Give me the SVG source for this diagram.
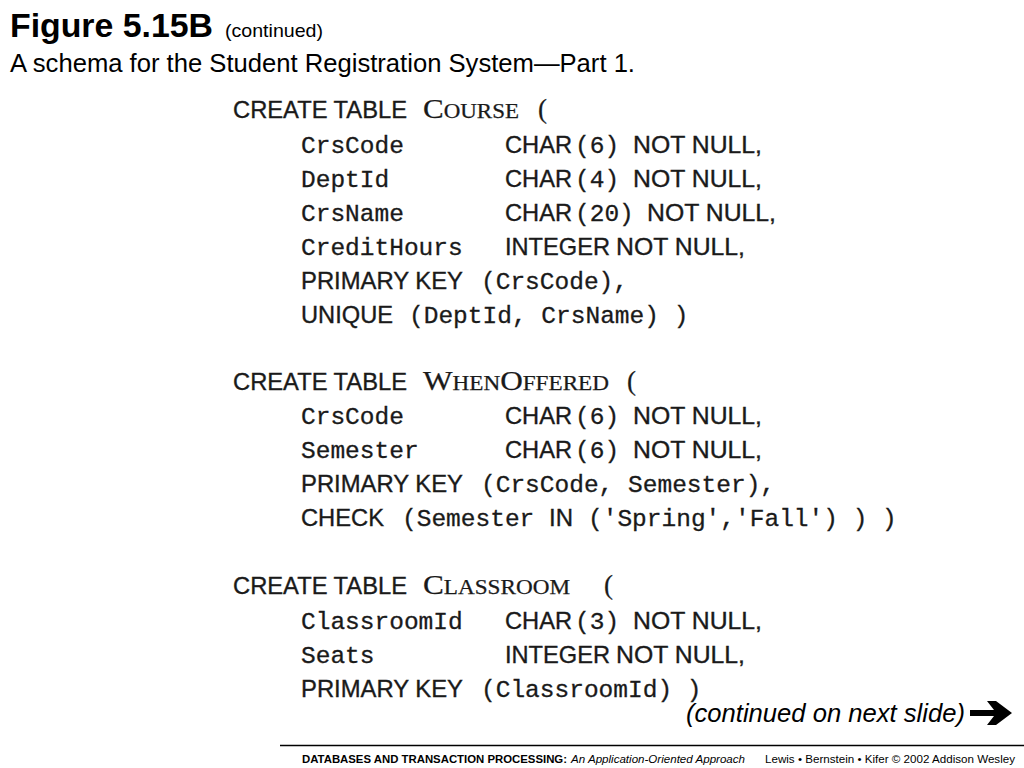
<svg xmlns="http://www.w3.org/2000/svg" width="1024" height="768" viewBox="0 0 1024 768">
<style>
.h{font-family:"Liberation Sans",Arial,sans-serif;fill:#000}
.s{font-family:"Liberation Sans",Arial,sans-serif;font-size:24px;fill:#1a1a1a;stroke:#1a1a1a;stroke-width:0.35px}
.m{font-family:"Liberation Mono","Courier New",monospace;font-size:24.5px;fill:#1a1a1a;stroke:#1a1a1a;stroke-width:0.3px}
.sc{font-family:"Liberation Serif","Times New Roman",serif;fill:#1a1a1a;stroke:#1a1a1a;stroke-width:0.25px}
.big{font-size:27px}
.sm{font-size:20px}
.f{font-family:"Liberation Sans",Arial,sans-serif;font-size:11px;fill:#000}
</style>
<rect width="1024" height="768" fill="#fff"/>
<g id="title">
<text class="h" x="10" y="37" font-size="34" font-weight="bold" textLength="203" lengthAdjust="spacingAndGlyphs">Figure 5.15B</text>
<text class="h" x="225" y="37" font-size="19" textLength="98" lengthAdjust="spacingAndGlyphs">(continued)</text>
<text class="h" x="10" y="72" font-size="25.5" textLength="625" lengthAdjust="spacingAndGlyphs">A schema for the Student Registration System—Part 1.</text>
</g>
<g id="course">
<text class="s" x="233" y="118" textLength="174" lengthAdjust="spacingAndGlyphs">CREATE TABLE</text>
<text class="sc" x="423" y="118" textLength="96" lengthAdjust="spacingAndGlyphs"><tspan class="big">C</tspan><tspan class="sm">OURSE</tspan></text>
<text class="sc big" x="538" y="118">(</text>
<text class="m" x="301" y="153">CrsCode</text>
<text class="s" x="505" y="153" textLength="67" lengthAdjust="spacingAndGlyphs">CHAR</text><text class="m" x="575" y="153">(6)</text>
<text class="s" x="633" y="153" textLength="129" lengthAdjust="spacingAndGlyphs">NOT NULL,</text>
<text class="m" x="301" y="187">DeptId</text>
<text class="s" x="505" y="187" textLength="67" lengthAdjust="spacingAndGlyphs">CHAR</text><text class="m" x="575" y="187">(4)</text>
<text class="s" x="633" y="187" textLength="129" lengthAdjust="spacingAndGlyphs">NOT NULL,</text>
<text class="m" x="301" y="221">CrsName</text>
<text class="s" x="505" y="221" textLength="67" lengthAdjust="spacingAndGlyphs">CHAR</text><text class="m" x="575" y="221">(20)</text>
<text class="s" x="647" y="221" textLength="129" lengthAdjust="spacingAndGlyphs">NOT NULL,</text>
<text class="m" x="301" y="255">CreditHours</text>
<text class="s" x="505" y="255" textLength="105" lengthAdjust="spacingAndGlyphs">INTEGER</text>
<text class="s" x="616" y="255" textLength="129" lengthAdjust="spacingAndGlyphs">NOT NULL,</text>
<text class="s" x="301" y="289" textLength="162" lengthAdjust="spacingAndGlyphs">PRIMARY KEY</text>
<text class="m" x="481" y="289">(CrsCode),</text>
<text class="s" x="301" y="323" textLength="92" lengthAdjust="spacingAndGlyphs">UNIQUE</text>
<text class="m" x="409" y="323" xml:space="preserve">(DeptId, CrsName) )</text>
</g>
<g id="whenoffered">
<text class="s" x="233" y="390" textLength="174" lengthAdjust="spacingAndGlyphs">CREATE TABLE</text>
<text class="sc" x="423" y="390" textLength="186" lengthAdjust="spacingAndGlyphs"><tspan class="big">W</tspan><tspan class="sm">HEN</tspan><tspan class="big">O</tspan><tspan class="sm">FFERED</tspan></text>
<text class="sc big" x="627" y="390">(</text>
<text class="m" x="301" y="424">CrsCode</text>
<text class="s" x="505" y="424" textLength="67" lengthAdjust="spacingAndGlyphs">CHAR</text><text class="m" x="575" y="424">(6)</text>
<text class="s" x="633" y="424" textLength="129" lengthAdjust="spacingAndGlyphs">NOT NULL,</text>
<text class="m" x="301" y="458">Semester</text>
<text class="s" x="505" y="458" textLength="67" lengthAdjust="spacingAndGlyphs">CHAR</text><text class="m" x="575" y="458">(6)</text>
<text class="s" x="633" y="458" textLength="129" lengthAdjust="spacingAndGlyphs">NOT NULL,</text>
<text class="s" x="301" y="492" textLength="162" lengthAdjust="spacingAndGlyphs">PRIMARY KEY</text>
<text class="m" x="481" y="492" xml:space="preserve">(CrsCode, Semester),</text>
<text class="s" x="301" y="526" textLength="83" lengthAdjust="spacingAndGlyphs">CHECK</text>
<text class="m" x="402" y="526">(Semester</text>
<text class="s" x="549" y="526">IN</text>
<text class="m" x="588" y="526" xml:space="preserve">('Spring','Fall') ) )</text>
</g>
<g id="classroom">
<text class="s" x="233" y="594" textLength="174" lengthAdjust="spacingAndGlyphs">CREATE TABLE</text>
<text class="sc" x="423" y="594" textLength="147" lengthAdjust="spacingAndGlyphs"><tspan class="big">C</tspan><tspan class="sm">LASSROOM</tspan></text>
<text class="sc big" x="604" y="594">(</text>
<text class="m" x="301" y="629">ClassroomId</text>
<text class="s" x="505" y="629" textLength="67" lengthAdjust="spacingAndGlyphs">CHAR</text><text class="m" x="575" y="629">(3)</text>
<text class="s" x="633" y="629" textLength="129" lengthAdjust="spacingAndGlyphs">NOT NULL,</text>
<text class="m" x="301" y="663">Seats</text>
<text class="s" x="505" y="663" textLength="105" lengthAdjust="spacingAndGlyphs">INTEGER</text>
<text class="s" x="616" y="663" textLength="129" lengthAdjust="spacingAndGlyphs">NOT NULL,</text>
<text class="s" x="301" y="697" textLength="162" lengthAdjust="spacingAndGlyphs">PRIMARY KEY</text>
<text class="m" x="481" y="697" xml:space="preserve">(ClassroomId) )</text>
</g>
<g id="continued">
<text class="h" x="686" y="722" font-size="25.5" font-style="italic" textLength="279" lengthAdjust="spacingAndGlyphs">(continued on next slide)</text>
<path d="M970 710 L994 710 L987 701 L996 701 L1012 713 L996 725 L987 725 L994 716 L970 716 Z" fill="#000"/>
</g>
<g id="footer">
<line x1="280" y1="745.5" x2="1024" y2="745.5" stroke="#000" stroke-width="1.5"/>
<text class="f" x="302" y="763" font-weight="bold" textLength="265" lengthAdjust="spacingAndGlyphs">DATABASES AND TRANSACTION PROCESSING:</text>
<text class="f" x="571" y="763" font-style="italic" textLength="174" lengthAdjust="spacingAndGlyphs">An Application-Oriented Approach</text>
<text class="f" x="765" y="763" textLength="250" lengthAdjust="spacingAndGlyphs">Lewis • Bernstein • Kifer © 2002  Addison Wesley</text>
</g>
</svg>
